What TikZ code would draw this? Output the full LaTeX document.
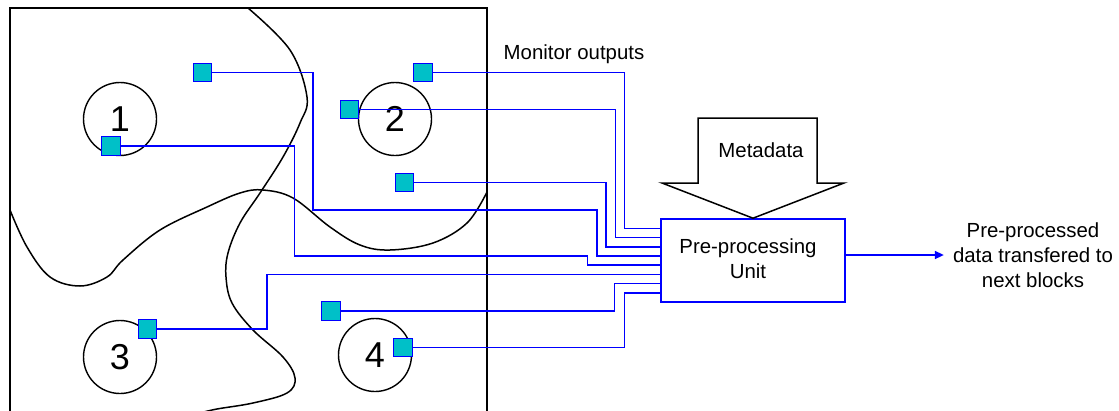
\documentclass[tikz,border=0pt]{standalone}
\usepackage{fontspec}
\setmainfont{Liberation Sans}
\usetikzlibrary{arrows.meta}
\definecolor{sensorfill}{RGB}{0,192,200}
\definecolor{wireblue}{RGB}{0,0,255}
\begin{document}
\begin{tikzpicture}[x=1pt,y=-1pt,
  sensor/.style={draw=wireblue, fill=sensorfill, line width=1.4pt, minimum size=18.5pt, inner sep=0pt},
  wire/.style={draw=wireblue, line width=1.6pt},
  zone/.style={draw=black, line width=1.5pt},
  room/.style={circle, draw=black, line width=1.4pt, minimum size=73pt, inner sep=0pt, font=\fontsize{36}{40}\selectfont},
  lbl/.style={font=\fontsize{20.4}{25}\selectfont, inner sep=0pt, align=center},
  unitbox/.style={draw=wireblue, line width=1.6pt, minimum width=184pt, minimum height=83pt, inner sep=0pt}
]
\useasboundingbox (0,0) rectangle (1119,410);

% frame
\draw[zone] (10,415) -- (10,8) -- (487,8) -- (487,415);

% zone boundaries
\draw[zone] plot[smooth, tension=0.6] coordinates {(248,8) (290,50) (307,97) (300,123) (283,157) (260,193) (240,223) (228,253) (226,277) (232,303) (253,330) (283,357) (295,378) (287,393) (253,403) (217,409) (200,413)};
\draw[zone] plot[smooth, tension=0.6] coordinates {(10,210) (27,247) (50,277) (80,286) (107,277) (123,260) (160,230) (207,207) (240,193) (263,190) (293,198) (330,227) (360,245) (390,250) (433,243) (467,223) (487,192)};

% rooms
\node[room] (c1) at (120,119) {1};
\node[room] (c2) at (395,119) {2};
\node[room] (c3) at (120,357) {3};
\node[room] (c4) at (375,355) {4};

% pre-processing unit
\node[unitbox] (pu) at (753,260.5) {};
\node[lbl] (putext) at (748,259) {Pre-processing\\Unit};

\path (pu.west) ++(0,-32.2) coordinate (in1);
\path (pu.west) ++(0,-22.9) coordinate (in2);
\path (pu.west) ++(0,-13.8) coordinate (in3);
\path (pu.west) ++(0,-4.5) coordinate (in4);
\path (pu.west) ++(0,4.5) coordinate (in5);
\path (pu.west) ++(0,13.8) coordinate (in6);
\path (pu.west) ++(0,23.1) coordinate (in7);
\path (pu.west) ++(0,32.2) coordinate (in8);

% sensors
\node[sensor] (sqA) at (202.5,72.5) {};
\node[sensor] (sqB) at (423,72.5) {};
\node[sensor] (sqC) at (349.5,109.5) {};
\node[sensor] (sqD) at (404.5,182.5) {};
\node[sensor] (sq1) at (111,146) {};
\node[sensor] (sq3) at (147.5,329) {};
\node[sensor] (sqE) at (331,311) {};
\node[sensor] (sq4) at (403,347.5) {};

% wires
\draw[wire] (sqB.east) -| (624.3,228.3) -- (in1);
\draw[wire] (sqC.east) -| (615.3,237.6) -- (in2);
\draw[wire] (sqD.east) -| (606,246.7) -- (in3);
\draw[wire] (sqA.east) -| (313,210) -| (596.7,256) -- (in4);
\draw[wire] (sq1.east) -| (294.3,256) -| (587.3,265) -- (in5);
\draw[wire] (sq3.east) -| (266.7,274.3) -- (in6);
\draw[wire] (sqE.east) -| (614.3,283.6) -- (in7);
\draw[wire] (sq4.east) -| (624.3,292.7) -- (in8);

% redraw sensors on top
\node[sensor] at (sqA) {};
\node[sensor] at (sqB) {};
\node[sensor] at (sqC) {};
\node[sensor] at (sqD) {};
\node[sensor] at (sq1) {};
\node[sensor] at (sq3) {};
\node[sensor] at (sqE) {};
\node[sensor] at (sq4) {};

% labels
\node[lbl] (mon) at (574,54) {Monitor outputs};

% metadata arrow
\draw[zone] (698,118) -- (817,118) -- (817,183) -- (844,183) -- (pu.north) -- (662,183) -- (698,183) -- cycle;
\node[lbl] (meta) at (761,150) {Metadata};

% output
\node[lbl] (out) at (1033,255) {Pre-processed\\data transfered to\\next blocks};
\draw[wire, -{Triangle[length=9pt,width=8pt]}] (pu.east |- out.west) -- ([xshift=-9pt]out.west);
\end{tikzpicture}
\end{document}
